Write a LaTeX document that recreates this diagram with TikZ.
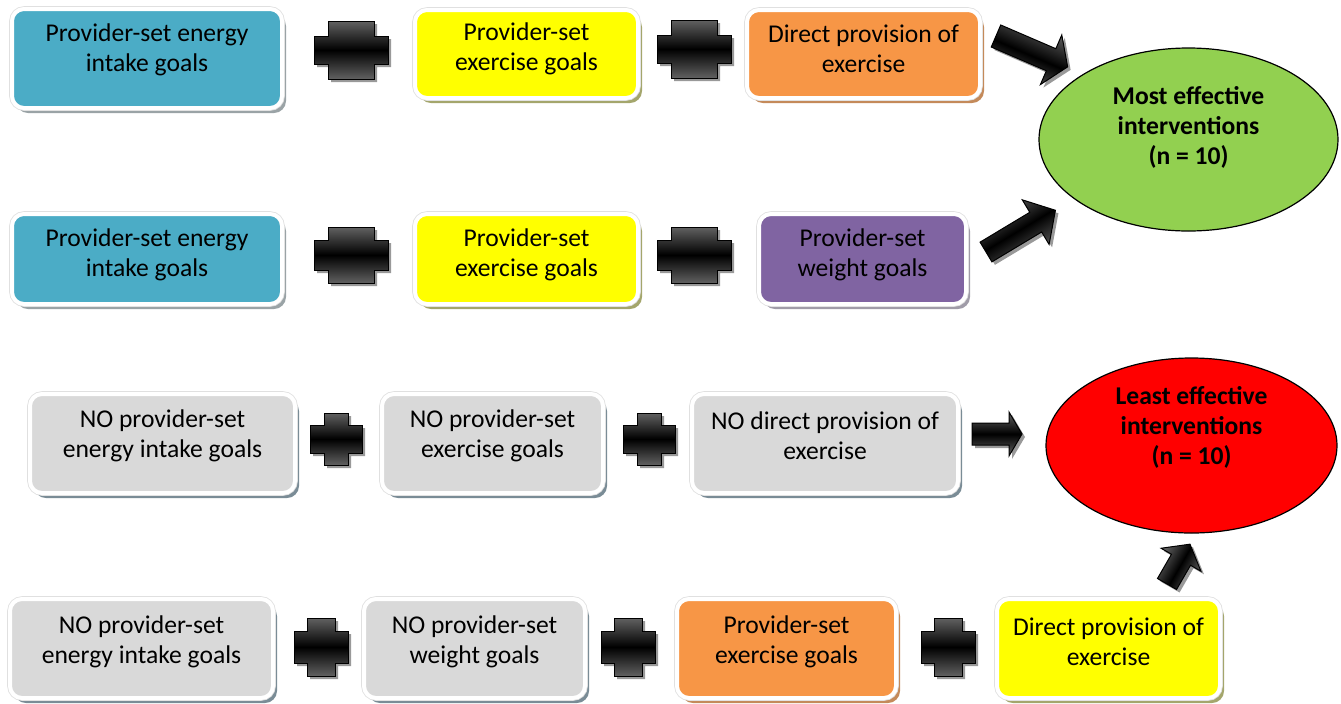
\documentclass[tikz,border=0pt]{standalone}
\usepackage{fontspec}
\setmainfont{Carlito}
\usetikzlibrary{shapes.geometric,shadows}

\definecolor{goalblue}{HTML}{4BACC6}
\definecolor{goalyellow}{HTML}{FFFF00}
\definecolor{goalorange}{HTML}{F79646}
\definecolor{goalpurple}{HTML}{8064A2}
\definecolor{goalgrey}{HTML}{D9D9D9}
\definecolor{effgreen}{HTML}{92D050}
\definecolor{effred}{HTML}{FF0000}
\definecolor{shblue}{HTML}{9AA3A6}
\definecolor{shyellow}{HTML}{A4A66C}
\definecolor{shorange}{HTML}{C48A5A}
\definecolor{shpurple}{HTML}{A09CA8}
\definecolor{shgrey}{HTML}{7A8C96}

\tikzset{
    goal/.style 2 args={rectangle, rounded corners=6pt, inner sep=0pt,
        drop shadow={shadow xshift=2pt, shadow yshift=-2.5pt, fill=#2, opacity=1},
        preaction={draw=black!12, line width=2.8pt},
        fill=#1, draw=white, line width=2pt},
    goaltext/.style={align=center, inner sep=0pt, font=\fontsize{12.8pt}{15pt}\selectfont},
    effect/.style={ellipse, draw=black, line width=0.6pt, inner sep=0pt},
    efftext/.style={align=center, inner sep=0pt, font=\fontsize{12.8pt}{15pt}\selectfont\bfseries},
    plusfill/.style={draw=black, line width=0.5pt, top color=black!62, bottom color=black!62, middle color=black,
        drop shadow={shadow xshift=1.5pt, shadow yshift=-1.5pt, fill=black!40, opacity=1}},
    arrowfill/.style={draw=black, line width=0.5pt, top color=black!62, bottom color=black!62, middle color=black,
        drop shadow={shadow xshift=1.5pt, shadow yshift=-1.5pt, fill=black!40, opacity=1}},
}

% plus sign: centre, half width, half height, half arm width, half arm height
\newcommand{\plusmark}[5]{%
    \path[plusfill, shift={(#1)}] (-#4,-#3) -- (#4,-#3) -- (#4,-#5) -- (#2,-#5) -- (#2,#5) -- (#4,#5)
        -- (#4,#3) -- (-#4,#3) -- (-#4,#5) -- (-#2,#5) -- (-#2,-#5) -- (-#4,-#5) -- cycle;
}
% block arrow: tail, angle, length, half shaft, half head, head length
\newcommand{\blockarrow}[6]{%
    \path[arrowfill, shading angle=#2, shift={(#1)}, rotate=#2] (0,-#4) -- ({#3-#6},-#4) -- ({#3-#6},-#5)
        -- (#3,0) -- ({#3-#6},#5) -- ({#3-#6},#4) -- (0,#4) -- cycle;
}

\begin{document}
\begin{tikzpicture}[x=0.5pt, y=-0.5pt]
    \useasboundingbox (0,0) rectangle (1341,703);

    % Most effective, first combination
    \node[goal={goalblue}{shblue}, minimum width=135pt, minimum height=49.5pt,
        label={[goaltext, yshift=4.5pt]center:{Provider-set energy\\intake goals}}] (energyA) at (147,58.5) {};
    \node[goal={goalyellow}{shyellow}, minimum width=111.5pt, minimum height=44pt,
        label={[goaltext, yshift=2.5pt]center:{Provider-set\\exercise goals}}] (exerciseA) at (526.5,54) {};
    \node[goal={goalorange}{shorange}, minimum width=116.5pt, minimum height=44pt,
        label={[goaltext, yshift=2.75pt]center:{Direct provision of\\exercise}}] (directA) at (863.5,54) {};
    \plusmark{351,50}{37}{29}{23}{14}
    \plusmark{694,49}{37}{29}{23}{14}

    % Most effective, second combination
    \node[goal={goalblue}{shblue}, minimum width=135pt, minimum height=45pt,
        label={[goaltext, yshift=2pt]center:{Provider-set energy\\intake goals}}] (energyB) at (147,259) {};
    \node[goal={goalyellow}{shyellow}, minimum width=111.5pt, minimum height=45pt,
        label={[goaltext, yshift=2pt]center:{Provider-set\\exercise goals}}] (exerciseB) at (526.5,259) {};
    \node[goal={goalpurple}{shpurple}, minimum width=103.5pt, minimum height=45pt,
        label={[goaltext, yshift=2pt]center:{Provider-set\\weight goals}}] (weightB) at (862.5,259) {};
    \plusmark{351,255}{37}{28}{23}{15}
    \plusmark{694,255}{37}{28}{23}{15}

    % Least effective, first combination
    \node[goal={goalgrey}{shgrey}, minimum width=132.5pt, minimum height=49.5pt,
        label={[goaltext, yshift=4pt]center:{NO provider-set\\energy intake goals}}] (noenergyC) at (162.5,443.5) {};
    \node[goal={goalgrey}{shgrey}, minimum width=110.5pt, minimum height=49.5pt,
        label={[goaltext, yshift=4pt]center:{NO provider-set\\exercise goals}}] (noexerciseC) at (492.5,443.5) {};
    \node[goal={goalgrey}{shgrey}, minimum width=133pt, minimum height=49.5pt,
        label={[goaltext, yshift=4pt]center:{NO direct provision of\\exercise}}] (nodirectC) at (825,443.5) {};
    \plusmark{336,439}{26}{26}{12}{14}
    \plusmark{649,439}{26}{26}{12}{14}

    % Least effective, second combination
    \node[goal={goalgrey}{shgrey}, minimum width=131.5pt, minimum height=49.5pt,
        label={[goaltext, yshift=3.5pt]center:{NO provider-set\\energy intake goals}}] (noenergyD) at (141.5,648.5) {};
    \node[goal={goalgrey}{shgrey}, minimum width=110.5pt, minimum height=49.5pt,
        label={[goaltext, yshift=3.5pt]center:{NO provider-set\\weight goals}}] (noweightD) at (474.5,648.5) {};
    \node[goal={goalorange}{shorange}, minimum width=109.5pt, minimum height=49.5pt,
        label={[goaltext, yshift=3.5pt]center:{Provider-set\\exercise goals}}] (exerciseD) at (786.5,648.5) {};
    \node[goal={goalyellow}{shyellow}, minimum width=111.5pt, minimum height=49.5pt,
        label={[goaltext, yshift=3.5pt]center:{Direct provision of\\exercise}}] (directD) at (1108.5,648.5) {};
    \plusmark{321,647}{27}{29}{14}{16}
    \plusmark{628,647}{27}{29}{14}{16}
    \plusmark{948,647}{27}{29}{14}{16}

    % Outcomes
    \node[effect, fill=effgreen, minimum width=149.5pt, minimum height=91.5pt,
        label={[efftext, yshift=6pt]center:{Most effective\\interventions\\(n = 10)}}] (most) at (1188.5,139.5) {};
    \node[effect, fill=effred, minimum width=145.5pt, minimum height=87.5pt,
        label={[efftext, yshift=9pt]center:{Least effective\\interventions\\(n = 10)}}] (least) at (1191.5,445.5) {};

    % Block arrows
    \blockarrow{996,36}{-23.3}{78}{12}{27}{18}
    \blockarrow{986,252}{31}{81}{11.5}{26}{23}
    \blockarrow{972,434}{0}{50}{11}{22}{13}
    \blockarrow{1167,584}{60}{46}{11}{23}{18}
\end{tikzpicture}
\end{document}
